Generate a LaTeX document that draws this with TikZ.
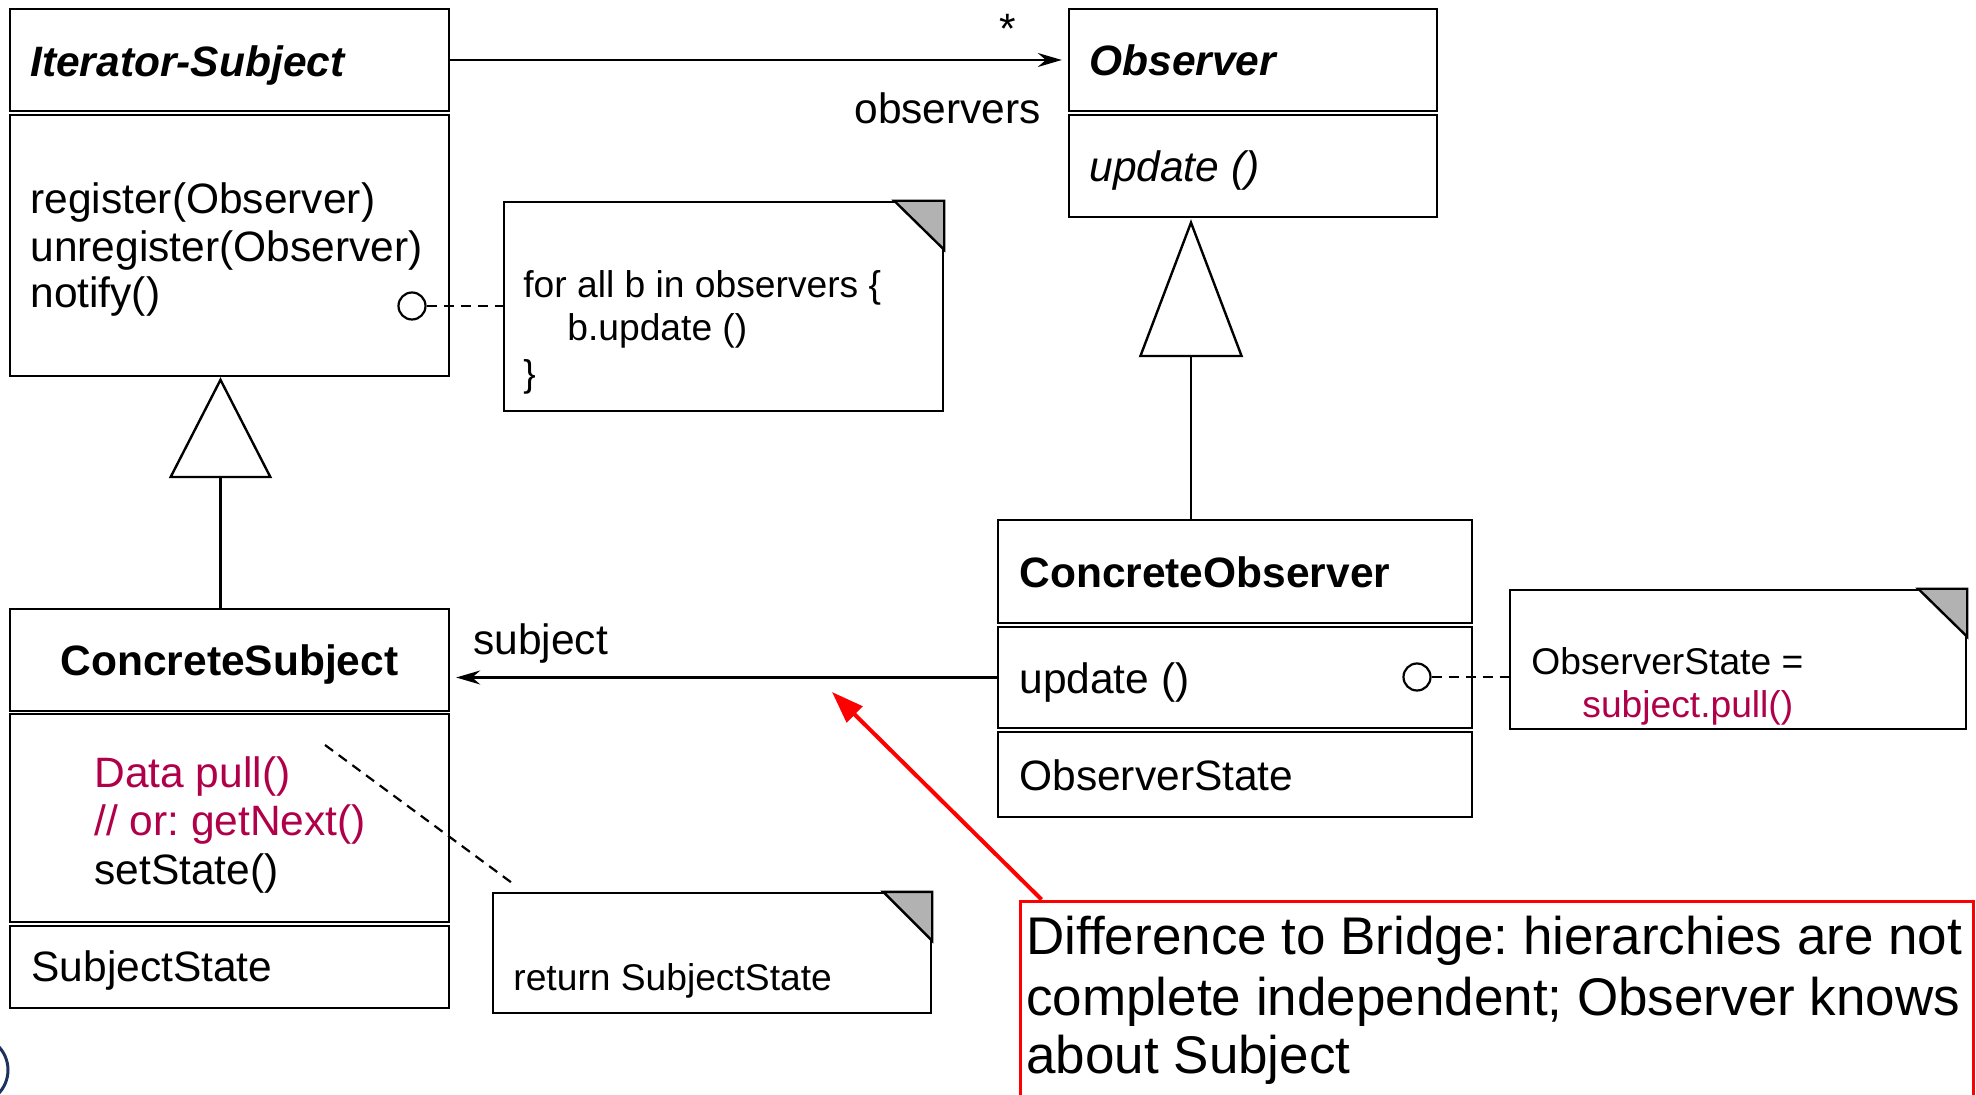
\documentclass[tikz,border=0pt]{standalone}
\usepackage{fontspec}
\setmainfont{Liberation Sans}
\usetikzlibrary{arrows.meta,fit,calc}
\definecolor{crim}{RGB}{176,0,74}
\definecolor{foldgray}{RGB}{178,178,178}
\definecolor{logonavy}{RGB}{30,50,95}
\newcommand{\mkbox}[6]{\path (#2,#3) coordinate (#1-nw) (#4,#5) coordinate (#1-se);
  \node[#6, fit=(#1-nw)(#1-se)] (#1) {};}
\newcommand{\clsfont}{\fontsize{21.25}{25}\selectfont}
\newcommand{\notefont}{\fontsize{18.6}{22}\selectfont}
\newcommand{\redfont}{\fontsize{26.5}{30}\selectfont}
\frenchspacing
\begin{document}
\frenchspacing
\begin{tikzpicture}[x=0.5pt,y=-0.5pt,
  umlbox/.style={draw, line width=1.2pt, inner sep=0pt},
  notebox/.style={draw, line width=1.2pt, inner sep=0pt, fill=white},
  redbox/.style={draw=red, line width=1.5pt, inner sep=0pt},
  txt/.style={inner sep=0pt, text depth=0pt, text height=15.5pt, anchor=west, font=\clsfont},
  ctxt/.style={inner sep=0pt, text depth=0pt, text height=15.5pt, font=\clsfont},
  ntxt/.style={inner sep=0pt, text depth=0pt, text height=13.6pt, anchor=west, font=\notefont},
  rtxt/.style={inner sep=0pt, text depth=0pt, text height=19.3pt, anchor=west, font=\redfont},
  assoc/.style={line width=1.2pt, -{Stealth[length=12pt, width=7pt, inset=4pt]}, shorten >=3pt},
  gen/.style={line width=1.2pt},
  notelink/.style={line width=1.1pt, dash pattern=on 5pt off 3.5pt},
  pin/.style={circle, draw, line width=1.1pt, minimum size=13.5pt, inner sep=0pt},
  redarrow/.style={draw=red, line width=2pt, -{Triangle[length=16pt, width=11pt]}},
  fold/.style={fill=foldgray, line width=1.2pt, line join=miter}
]
\clip (0,0) rectangle (1976,1095);
\fill[white] (0,0) rectangle (1976,1095);

% logo fragment
\draw[logonavy, line width=1.5pt] (-26,1070) circle[radius=34];

% Iterator-Subject
\mkbox{ishead}{10}{9}{449}{111}{umlbox}
\mkbox{ismeth}{10}{115}{449}{376}{umlbox}
\node[txt, font=\clsfont\bfseries\itshape] (istitle) at (30,61) {Iterator-Subject};
\node[txt] (isreg) at (30,198) {register(Observer)};
\node[txt] (isunreg) at (30,246) {unregister(Observer)};
\node[txt] (isnotify) at (30,292) {notify()};

% Observer
\mkbox{obshead}{1069}{9}{1437}{111}{umlbox}
\mkbox{obsmeth}{1069}{115}{1437}{217}{umlbox}
\node[txt, font=\clsfont\bfseries\itshape] (obstitle) at (1089,60) {Observer};
\node[txt, font=\clsfont\itshape] (obsupd) at (1089,166) {update ()};

% ConcreteSubject
\mkbox{cshead}{10}{609}{449}{711}{umlbox}
\mkbox{csmeth}{10}{714}{449}{922}{umlbox}
\mkbox{csstate}{10}{926}{449}{1008}{umlbox}
\node[ctxt, font=\clsfont\bfseries] (cstitle) at (229.5,660) {ConcreteSubject};
\node[txt, text=crim] (cspull) at (94,772) {Data pull()};
\node[txt, text=crim] (csnext) at (94,820) {// or: getNext()};
\node[txt] (csset) at (94,869) {setState()};
\node[txt] (csst) at (31,966) {SubjectState};

% ConcreteObserver
\mkbox{cohead}{998}{520}{1472}{623}{umlbox}
\mkbox{coupd}{998}{627}{1472}{728}{umlbox}
\mkbox{costate}{998}{732}{1472}{817}{umlbox}
\node[txt, font=\clsfont\bfseries] (cotitle) at (1019,572) {ConcreteObserver};
\node[txt] (coupdt) at (1019,678) {update ()};
\node[txt] (cost) at (1019,775) {ObserverState};

% notes
\mkbox{note1}{504}{202}{943}{411}{notebox}
\filldraw[fold] ($(note1.north east)+(-50,0)$) -- (note1.north east) -- ($(note1.north east)+(0,49)$) -- cycle;
\node[ntxt] (n1a) at (523,284) {for all b in observers \{};
\node[ntxt] (n1b) at (567,327) {b.update ()};
\node[ntxt] (n1c) at (523,373) {\}};

\mkbox{note2}{1510}{590}{1966}{729}{notebox}
\filldraw[fold] ($(note2.north east)+(-49,0)$) -- (note2.north east) -- ($(note2.north east)+(0,48)$) -- cycle;
\node[ntxt] (n2a) at (1531,661) {ObserverState =};
\node[ntxt, text=crim] (n2b) at (1582,704) {subject.pull()};

\mkbox{note3}{493}{893}{931}{1013}{notebox}
\filldraw[fold] ($(note3.north east)+(-49,0)$) -- (note3.north east) -- ($(note3.north east)+(0,49)$) -- cycle;
\node[ntxt] (n3a) at (513,977) {return SubjectState};

% pins and note links
\node[pin] (pin1) at (412,306) {};
\node[pin] (pin2) at (1417,677) {};
\draw[notelink] (pin1.east) -- (pin1.east -| note1.west);
\draw[notelink] (pin2.east) -- (pin2.east -| note2.west);
\coordinate (pullpt) at (325,745);
\draw[notelink] (pullpt) -- ($(note3.north west)+(20,-9)$);

% association Iterator-Subject -> Observer
\draw[assoc] (ishead.east) -- (ishead.east -| obshead.west);
\node[anchor=base, inner sep=0pt, font=\clsfont] (mult) at (1008,44) {*};
\node[txt] (obslbl) at (854,108) {observers};

% association ConcreteObserver -> ConcreteSubject
\draw[assoc] (coupd.west) -- (coupd.west -| cshead.east);
\node[txt] (subjlbl) at (473,639) {subject};

% generalizations
\coordinate (gxr) at (1191,0);
\draw[gen, -{Triangle[open, length=69pt, width=52pt, line width=1.2pt]}, shorten >=0.5pt]
  (gxr |- cohead.north) -- (gxr |- obsmeth.south);
\coordinate (gxl) at (220.5,0);
\draw[gen, -{Triangle[open, length=50.5pt, width=51.5pt, line width=1.2pt]}]
  (gxl |- cshead.north) -- (gxl |- ismeth.south);

% red remark
\mkbox{remark}{1020}{901}{1973}{1130}{redbox}
\node[rtxt] (r1) at (1026,935) {Difference to Bridge: hierarchies are not};
\node[rtxt] (r2) at (1026,996) {complete independent; Observer knows};
\node[rtxt] (r3) at (1026,1054) {about Subject};
\coordinate (redtip) at (832,692);
\draw[redarrow] ($(remark.north west)+(23,0)$) -- (redtip);
\end{tikzpicture}
\end{document}
